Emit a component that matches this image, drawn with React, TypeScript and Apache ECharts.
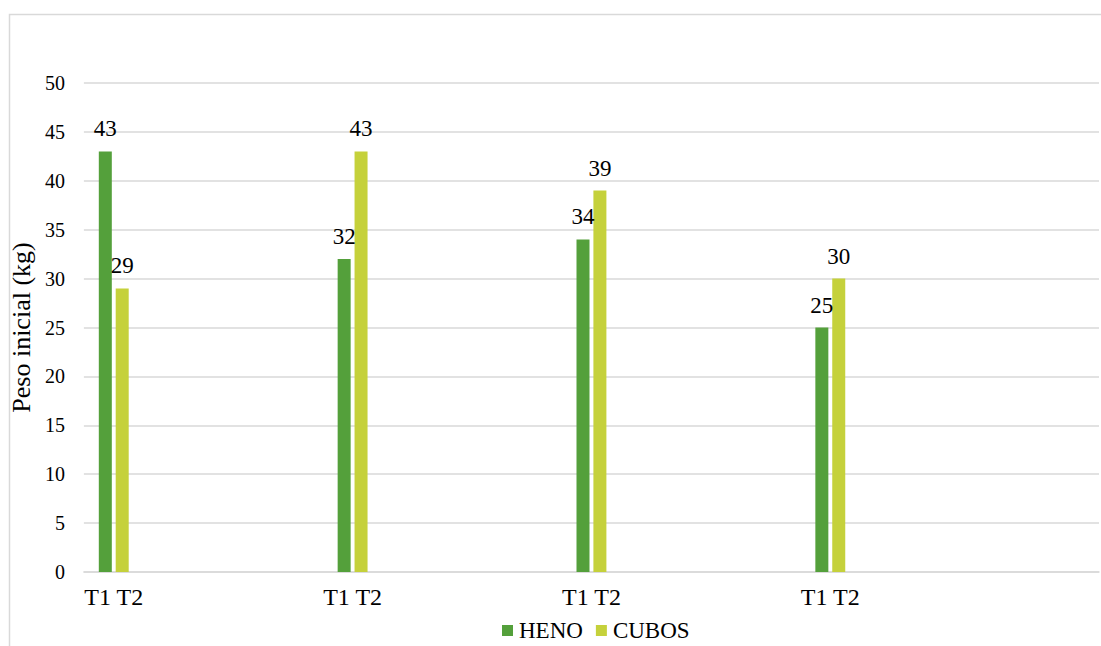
import React, { useEffect, useRef } from "react";
import * as echarts from "echarts";

const groupLabels = ["T1 T2", "T1 T2", "T1 T2", "T1 T2"];
const henoValues = [43, 32, 34, 25];
const cubosValues = [29, 43, 39, 30];
const seriesNames = ["HENO", "CUBOS"];
const yTicks = { min: 0, max: 50, interval: 5 };
const yAxisTitle = "Peso inicial (kg)";

// category layout: each group sits in one slot out of every 4, with 17 slots in total
const SLOT_STEP = 4;
const SLOT_COUNT = 17;

const FONT = "Liberation Serif";

function spread<T>(vals: T[], empty: T): T[] {
  const out: T[] = new Array(SLOT_COUNT).fill(empty);
  vals.forEach((v, i) => {
    out[i * SLOT_STEP] = v;
  });
  return out;
}

export default function App() {
  const ref = useRef<HTMLDivElement>(null);
  useEffect(() => {
    if (!ref.current) return;
    const chart = echarts.init(ref.current, null, { renderer: "svg" });
    const cats = spread(groupLabels, "");
    const labelCfg = {
      show: true,
      position: "top",
      distance: 11,
      color: "#000",
      fontFamily: FONT,
      fontSize: 23,
    };
    chart.setOption({
      animation: false,
      backgroundColor: "#fff",
      textStyle: { fontFamily: FONT, color: "#000" },
      graphic: [
        {
          type: "rect",
          shape: { x: 9.5, y: 14.5, width: 1110, height: 660 },
          style: { fill: "none", stroke: "#d9d9d9", lineWidth: 1.5 },
          silent: true,
        },
      ],
      grid: { left: 81, top: 83, right: 2, bottom: 74, containLabel: false },
      legend: {
        data: seriesNames,
        left: 497,
        top: 614,
        itemWidth: 11,
        itemHeight: 11,
        itemGap: 13,
        icon: "rect",
        textStyle: { fontFamily: FONT, fontSize: 23, lineHeight: 20, color: "#000", padding: [0, 0, 0, 1] },
      },
      xAxis: {
        type: "category",
        data: cats,
        axisLine: { show: true, lineStyle: { color: "#d9d9d9", width: 1.5 } },
        axisTick: { show: false },
        axisLabel: {
          interval: 0,
          hideOverlap: false,
          margin: 13,
          color: "#000",
          fontFamily: FONT,
          fontSize: 24,
        },
      },
      yAxis: {
        type: "value",
        min: yTicks.min,
        max: yTicks.max,
        interval: yTicks.interval,
        name: yAxisTitle,
        nameLocation: "middle",
        nameGap: 49,
        nameTextStyle: { fontFamily: FONT, fontSize: 26, color: "#000" },
        axisLine: { show: false },
        axisTick: { show: false },
        axisLabel: { margin: 19, color: "#000", fontFamily: FONT, fontSize: 20 },
        splitLine: { lineStyle: { color: "#d9d9d9", width: 1.5 } },
      },
      series: [
        {
          name: seriesNames[0],
          type: "bar",
          data: spread<number | null>(henoValues, null),
          barWidth: 13,
          barGap: "30%",
          itemStyle: { color: "#54a03b" },
          label: labelCfg,
        },
        {
          name: seriesNames[1],
          type: "bar",
          data: spread<number | null>(cubosValues, null),
          barWidth: 13,
          barGap: "30%",
          itemStyle: { color: "#c5d13b" },
          label: labelCfg,
        },
      ],
    });
    return () => chart.dispose();
  }, []);
  return (
    <div
      ref={ref}
      style={{ position: "fixed", left: 0, top: 0, width: 1101, height: 646 }}
    />
  );
}
